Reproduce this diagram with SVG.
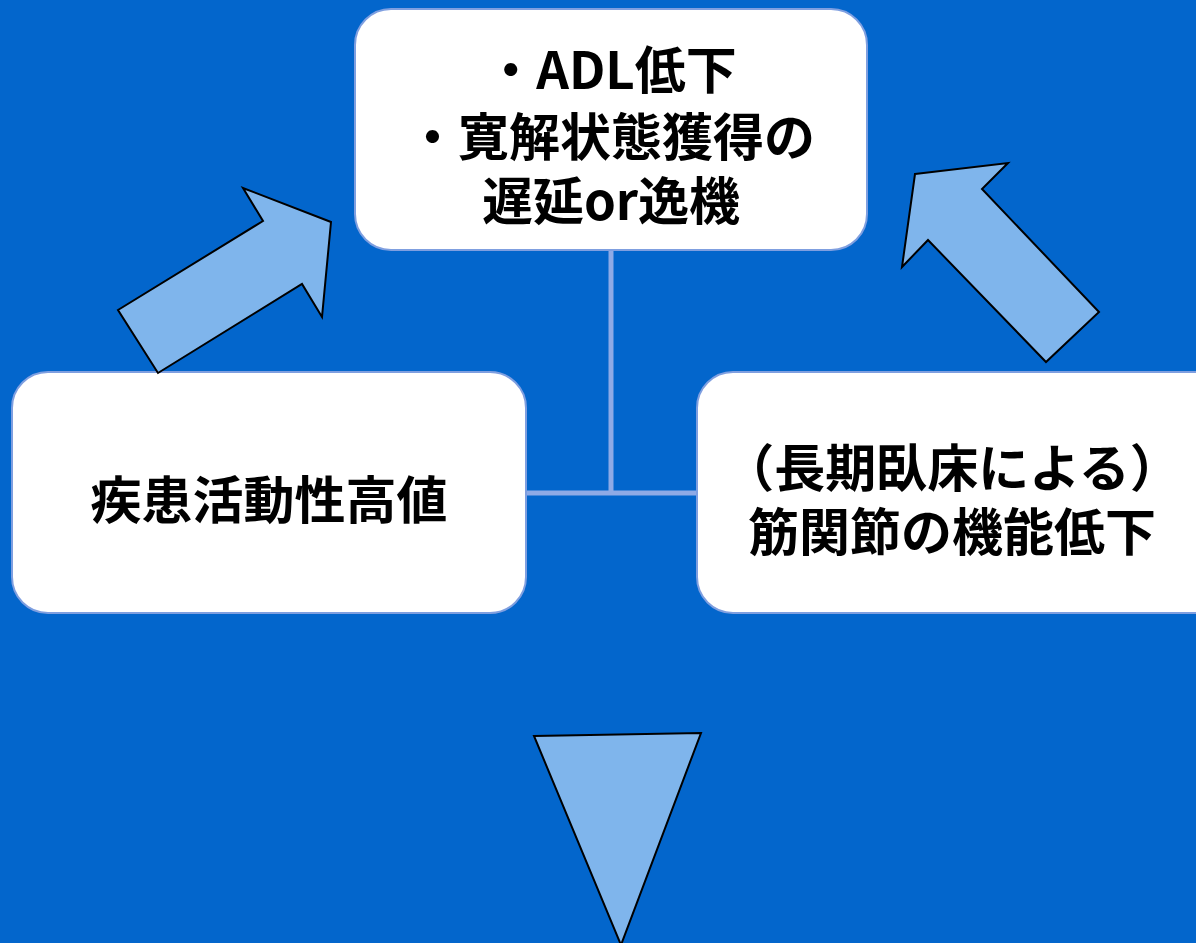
<svg xmlns="http://www.w3.org/2000/svg" width="1196" height="943" viewBox="0 0 1196 943">
<style>
.box{fill:#ffffff;stroke:#7f9fe0;stroke-width:2}
.arrow{fill:#7fb5ec;stroke:#000000;stroke-width:2;stroke-linejoin:miter}
.conn{stroke:#8eaae6;stroke-width:5;fill:none}
.t{font-family:"Noto Sans CJK JP","Noto Sans",sans-serif;font-weight:bold;font-size:51px;fill:#000000;text-anchor:middle;dominant-baseline:central}
</style>
<rect x="0" y="0" width="1196" height="943" fill="#0366cc"/>
<g id="connectors">
<line class="conn" x1="611" y1="250" x2="611" y2="493"/>
<line class="conn" x1="526" y1="493" x2="697" y2="493"/>
</g>
<g id="node-top">
<rect class="box" x="355" y="9" width="512" height="241" rx="36"/>
<text class="t" x="611" y="67">・ADL低下</text>
<text class="t" x="611" y="134">・寛解状態獲得の</text>
<text class="t" x="611" y="198">遅延or逸機</text>
</g>
<g id="node-left">
<rect class="box" x="12" y="372" width="514" height="241" rx="36"/>
<text class="t" x="269" y="497">疾患活動性高値</text>
</g>
<g id="node-right">
<rect class="box" x="697" y="372" width="540" height="241" rx="36"/>
<text class="t" x="952" y="465">（長期臥床による）</text>
<text class="t" x="952" y="529">筋関節の機能低下</text>
</g>
<g id="arrow-left">
<polygon class="arrow" points="118,310 263,221 243,188 331,222 322,317 302,284 158,373"/>
</g>
<g id="arrow-right">
<polygon class="arrow" points="915,174 1008,163 982,189 1099,312 1046,362 928,240 902,267"/>
</g>
<g id="arrow-down">
<polygon class="arrow" points="534,736 701,733 621,945"/>
</g>
</svg>
